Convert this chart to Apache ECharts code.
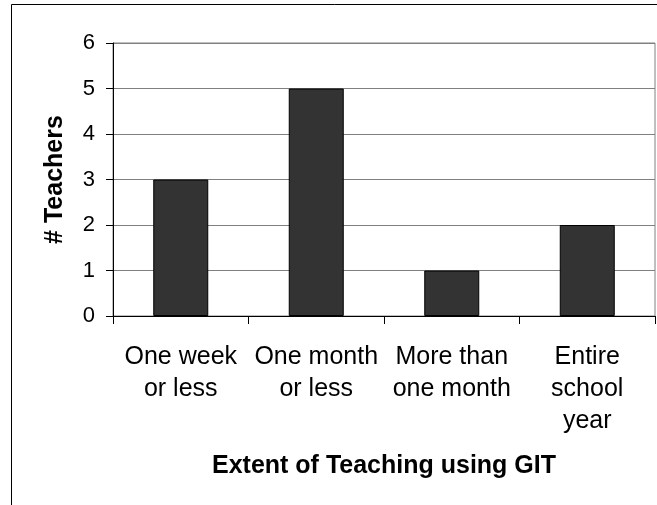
<!DOCTYPE html>
<html>
<head>
<meta charset="utf-8">
<script src="https://cdn.jsdelivr.net/npm/echarts@6/dist/echarts.min.js"></script>
<style>
  html, body { margin: 0; padding: 0; background: #fff; }
  #chart { width: 657px; height: 505px; }
</style>
</head>
<body>
<div id="chart"></div>
<script>
const categories = ['One week\nor less', 'One month\nor less', 'More than\none month', 'Entire\nschool\nyear']
const teachers = [3, 5, 1, 2]
const yTicks = [0, 1, 2, 3, 4, 5, 6]

const font = 'Arial, "Liberation Sans", sans-serif'
const chart = echarts.init(document.getElementById('chart'))

chart.setOption({
  animation: false,
  graphic: [
    {
      type: 'rect',
      shape: { x: 11.5, y: 4.5, width: 700, height: 600 },
      style: { fill: 'none', stroke: '#000', lineWidth: 1 },
      silent: true,
    },
  ],
  grid: {
    left: 113,
    right: 2,
    top: 43,
    bottom: 189,
    show: true,
    borderColor: '#808080',
    borderWidth: 1,
  },
  xAxis: {
    type: 'category',
    data: categories,
    name: 'Extent of Teaching using GIT',
    nameLocation: 'middle',
    nameGap: 138,
    nameTextStyle: { fontFamily: font, fontSize: 25, fontWeight: 'bold', color: '#000' },
    axisLine: { lineStyle: { color: '#000', width: 1 } },
    axisTick: { show: true, length: 8, lineStyle: { color: '#000' } },
    axisLabel: {
      interval: 0,
      margin: 25,
      color: '#000',
      fontFamily: font,
      fontSize: 25,
      lineHeight: 32,
    },
  },
  yAxis: {
    type: 'value',
    min: yTicks[0],
    max: yTicks[yTicks.length - 1],
    interval: 1,
    name: '# Teachers',
    nameLocation: 'middle',
    nameGap: 45,
    nameTextStyle: { fontFamily: font, fontSize: 25, fontWeight: 'bold', color: '#000' },
    axisLine: { show: true, lineStyle: { color: '#000', width: 1 } },
    axisTick: { show: true, length: 7, lineStyle: { color: '#000' } },
    axisLabel: { margin: 18, color: '#000', fontFamily: font, fontSize: 22 },
    splitLine: { show: true, lineStyle: { color: '#808080', width: 1 } },
  },
  series: [
    {
      type: 'bar',
      data: teachers,
      barWidth: 55,
      itemStyle: { color: '#333333', borderColor: '#000', borderWidth: 1 },
    },
  ],
})
</script>
</body>
</html>
